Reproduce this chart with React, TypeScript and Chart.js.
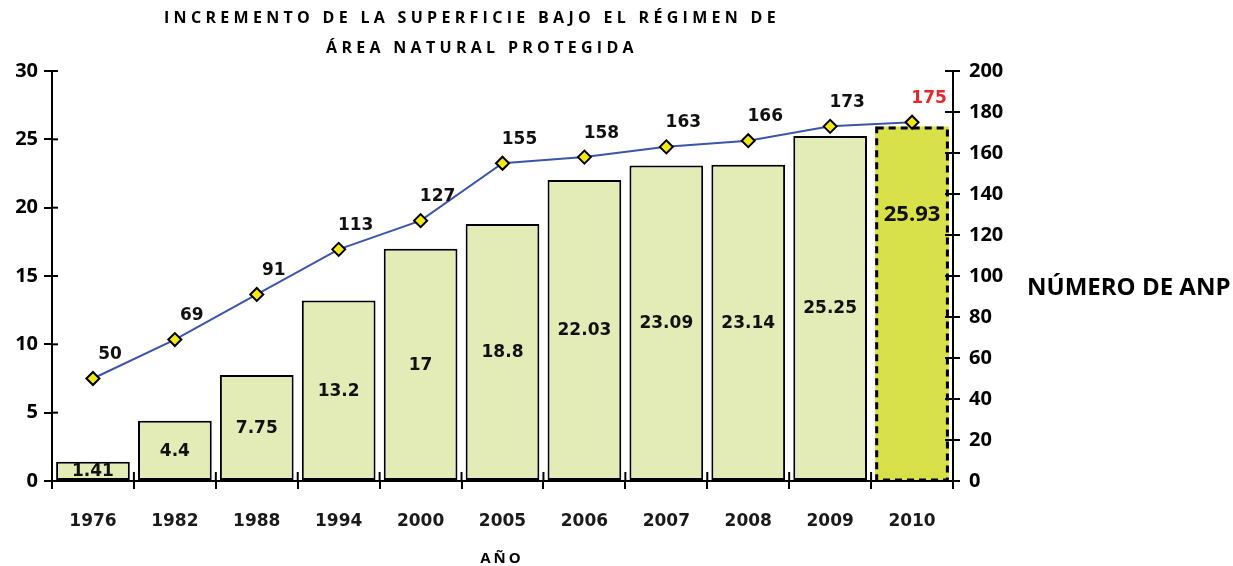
import { useEffect, useRef } from "react";
import { Chart, registerables } from "chart.js";

Chart.register(...registerables);

const years = ["1976", "1982", "1988", "1994", "2000", "2005", "2006", "2007", "2008", "2009", "2010"];
const surface = [1.41, 4.4, 7.75, 13.2, 17, 18.8, 22.03, 23.09, 23.14, 25.25, 25.93];
const anpCount = [50, 69, 91, 113, 127, 155, 158, 163, 166, 173, 175];
const titleLines = ["INCREMENTO DE LA SUPERFICIE BAJO EL RÉGIMEN DE", "ÁREA NATURAL PROTEGIDA"];
const xTitle = "AÑO";
const rightTitle = "NÚMERO DE ANP";
const highlightIndex = 10;

const BAR_FILL = "#E3EBB7";
const BAR_HIGHLIGHT = "#D8E04A";
const LINE_BLUE = "#3D55A8";
const DIAMOND = "#F3E816";
const LABEL_FONT = "bold 17px 'DejaVu Sans'";

const overlay = {
  id: "overlay",
  afterDraw(chart: any) {
    const ctx: CanvasRenderingContext2D = chart.ctx;
    const { chartArea, scales } = chart;
    const yL = scales.y;
    const yR = scales.y1;
    const xs = scales.x;
    ctx.save();
    ctx.strokeStyle = "#000";
    ctx.lineWidth = 2;
    const seg = (x1: number, y1: number, x2: number, y2: number) => {
      ctx.beginPath();
      ctx.moveTo(x1, y1);
      ctx.lineTo(x2, y2);
      ctx.stroke();
    };
    yL.ticks.forEach((_t: any, i: number) => {
      const py = yL.getPixelForTick(i);
      seg(chartArea.left, py, chartArea.left + 6, py);
    });
    yR.ticks.forEach((_t: any, i: number) => {
      const py = yR.getPixelForTick(i);
      seg(chartArea.right - 8, py, chartArea.right, py);
    });
    for (let i = 0; i <= years.length; i++) {
      const px = xs.getPixelForValue(i - 0.5);
      seg(px, chartArea.bottom - 9, px, chartArea.bottom);
    }

    // bars: dashed border on highlight + value labels
    const barMeta = chart.getDatasetMeta(1);
    barMeta.data.forEach((el: any, i: number) => {
      const p = el.getProps(["x", "y", "base", "width"], true);
      ctx.fillStyle = "#111";
      ctx.textAlign = "center";
      ctx.textBaseline = "middle";
      if (i === highlightIndex) {
        ctx.save();
        ctx.setLineDash([7, 5]);
        ctx.lineWidth = 3;
        ctx.strokeStyle = "#000";
        ctx.strokeRect(p.x - p.width / 2 + 1.5, p.y + 1.5, p.width - 3, p.base - p.y - 1.5);
        ctx.restore();
        ctx.font = "bold 22px 'Open Sans'";
        ctx.fillText(String(surface[i]), p.x, p.y + (p.base - p.y) * 0.25);
      } else {
        ctx.font = LABEL_FONT;
        ctx.fillText(String(surface[i]), p.x, (p.y + p.base) / 2 + 1);
      }
    });

    // line labels
    const lineMeta = chart.getDatasetMeta(0);
    lineMeta.data.forEach((pt: any, i: number) => {
      ctx.font = LABEL_FONT;
      ctx.textAlign = "center";
      ctx.textBaseline = "middle";
      ctx.fillStyle = i === highlightIndex ? "#E8262A" : "#111";
      ctx.fillText(String(anpCount[i]), pt.x + 17, pt.y - 24);
    });

    // titles
    ctx.fillStyle = "#000";
    ctx.textBaseline = "middle";
    ctx.textAlign = "center";
    ctx.font = "bold 16px 'Open Sans'";
    (ctx as any).letterSpacing = "4.3px";
    ctx.fillText(titleLines[0], 472, 18);
    ctx.fillText(titleLines[1], 482, 48);
    ctx.font = "bold 15px 'Open Sans'";
    (ctx as any).letterSpacing = "3px";
    ctx.fillText(xTitle, 502, 559);
    (ctx as any).letterSpacing = "0px";
    ctx.textAlign = "left";
    ctx.font = "bold 24px 'Open Sans'";
    ctx.fillText(rightTitle, 1027, 288);
    ctx.restore();
  },
};

export default function App() {
  const ref = useRef<HTMLCanvasElement | null>(null);
  useEffect(() => {
    if (!ref.current) return;
    const tickFont = { family: "'Open Sans'", weight: "bold" as const, size: 20 };
    const chart = new Chart(ref.current, {
      type: "bar",
      data: {
        labels: years,
        datasets: [
          {
            type: "line",
            label: "ANP",
            data: anpCount,
            yAxisID: "y1",
            borderColor: LINE_BLUE,
            borderWidth: 2,
            tension: 0,
            pointStyle: "rectRot",
            pointRadius: 6.5,
            pointBackgroundColor: DIAMOND,
            pointBorderColor: "#000",
            pointBorderWidth: 2,
            order: 0,
          } as any,
          {
            type: "bar",
            label: "Superficie",
            data: surface,
            yAxisID: "y",
            backgroundColor: surface.map((_v, i) => (i === highlightIndex ? BAR_HIGHLIGHT : BAR_FILL)),
            borderColor: "#000",
            borderWidth: surface.map((_v, i) => (i === highlightIndex ? 0 : 2)),
            borderSkipped: false,
            barPercentage: 0.9,
            categoryPercentage: 1,
            order: 1,
          } as any,
        ],
      },
      options: {
        responsive: false,
        animation: false,
        layout: { padding: { top: 71, left: 0, right: 0, bottom: 0 } },
        plugins: {
          legend: { display: false },
          tooltip: { enabled: false },
          title: { display: false },
        },
        scales: {
          x: {
            grid: {
              drawOnChartArea: false,
              drawTicks: true,
              tickLength: 8,
              color: "#000",
              lineWidth: 2,
              offset: true,
            },
            border: { color: "#000", width: 2 },
            ticks: {
              font: { family: "'DejaVu Sans'", weight: "bold", size: 17 },
              color: "#1a1a1a",
              padding: 22,
              maxRotation: 0,
            },
            afterFit: (s: any) => {
              s.height = 85;
            },
          },
          y: {
            position: "left",
            min: 0,
            max: 30,
            ticks: { stepSize: 5, font: tickFont, color: "#000", padding: 6 },
            grid: { drawOnChartArea: false, tickLength: 8, color: "#000", lineWidth: 2 },
            border: { color: "#000", width: 2 },
            afterFit: (s: any) => {
              s.width = 52;
            },
          },
          y1: {
            position: "right",
            min: 0,
            max: 200,
            ticks: { stepSize: 20, font: tickFont, color: "#000", padding: 9 },
            grid: { drawOnChartArea: false, tickLength: 7, color: "#000", lineWidth: 2 },
            border: { color: "#000", width: 2 },
            afterFit: (s: any) => {
              s.width = 280;
            },
          },
        },
      } as any,
      plugins: [overlay],
    });
    return () => chart.destroy();
  }, []);
  return (
    <div style={{ position: "fixed", left: 0, top: 0, width: 1233, height: 566, background: "#fff" }}>
      <canvas ref={ref} width={1233} height={566} />
    </div>
  );
}
